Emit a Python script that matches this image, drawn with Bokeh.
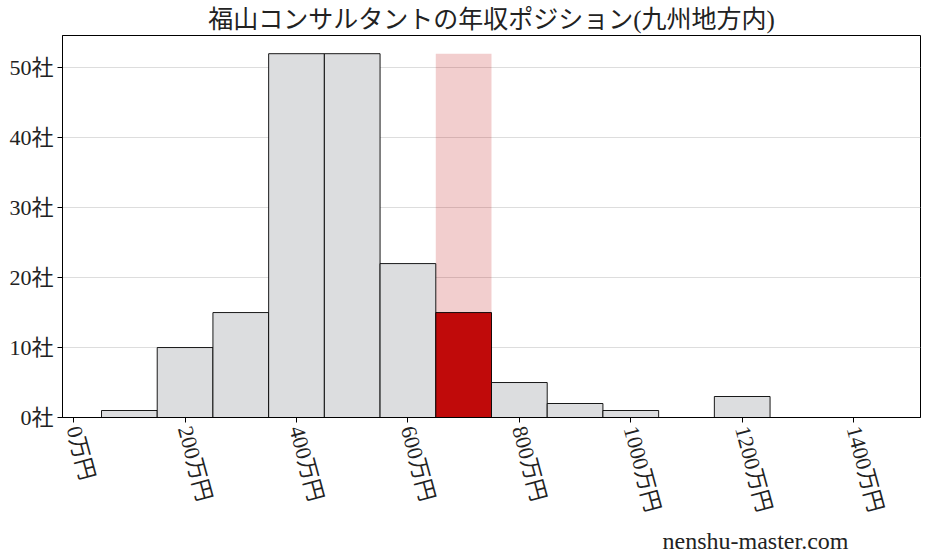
import math
from bokeh.plotting import figure
from bokeh.models import FixedTicker, Range1d, Title, ColumnDataSource
from bokeh.embed import file_html
from bokeh.resources import INLINE

# ---- data ----
bin_centers = [100, 200, 300, 400, 500, 600, 700, 800, 900, 1000, 1100, 1200, 1300, 1400]
counts = [1, 10, 15, 52, 52, 22, 15, 5, 2, 1, 0, 3, 0, 0]
bin_width = 100
highlight_center = 700
highlight_band_top = 52
x_ticks = [0, 200, 400, 600, 800, 1000, 1200, 1400]
x_tick_labels = [f"{t}万円" for t in x_ticks]
y_ticks = [0, 10, 20, 30, 40, 50]
y_tick_labels = [f"{t}社" for t in y_ticks]
title_text = "福山コンサルタントの年収ポジション(九州地方内)"
watermark = "nenshu-master.com"

GRAY = "#dcdddf"
RED = "#c00a0a"
FONT = "'Liberation Serif', 'Noto Sans CJK JP'"

colors = [RED if c == highlight_center else GRAY for c in bin_centers]
src = ColumnDataSource(dict(x=bin_centers, top=counts, color=colors))

x_lo = min(bin_centers) - bin_width / 2
x_hi = max(bin_centers) + bin_width / 2
pad = (x_hi - x_lo) * 0.05
y_hi = max(counts) * 1.05

p = figure(frame_width=858, frame_height=382, output_backend="svg", toolbar_location=None,
           x_range=Range1d(x_lo - pad, x_hi + pad), y_range=Range1d(0, y_hi),
           min_border_left=62, min_border_right=1, min_border_top=27, min_border_bottom=0)

p.title.text = title_text
p.title.align = "center"
p.title.text_font = FONT
p.title.text_font_size = "25px"
p.title.text_font_style = "normal"
p.title.text_color = "#222222"
p.title.standoff = 6

p.add_layout(Title(text=watermark, align="right", offset=72, text_font=FONT,
                   text_font_size="24px", text_font_style="normal",
                   text_color="#222222"), "below")

# highlight band
p.vbar(x=[highlight_center], top=[highlight_band_top], width=bin_width,
       fill_color=RED, fill_alpha=0.2, line_color=None)
# bars
p.vbar(x="x", top="top", width=bin_width, source=src, fill_color="color",
       line_color="black", line_width=0.9)

p.xgrid.visible = False
p.ygrid.grid_line_color = "#dddddd"
p.ygrid.ticker = FixedTicker(ticks=y_ticks)

p.outline_line_color = "black"
p.outline_line_width = 1

for ax in (p.xaxis[0], p.yaxis[0]):
    ax.axis_line_color = "black"
    ax.major_tick_line_color = "black"
    ax.major_tick_out = 5
    ax.major_tick_in = 0
    ax.minor_tick_line_color = None
    ax.major_label_text_font = FONT
    ax.major_label_text_font_size = "22px"
    ax.major_label_text_color = "#222222"
    ax.major_label_standoff = 4

p.xaxis[0].ticker = FixedTicker(ticks=x_ticks)
p.xaxis[0].major_label_overrides = {t: l for t, l in zip(x_ticks, x_tick_labels)}
p.xaxis[0].major_label_orientation = -math.radians(75)
p.yaxis[0].ticker = FixedTicker(ticks=y_ticks)
p.yaxis[0].major_label_overrides = {t: l for t, l in zip(y_ticks, y_tick_labels)}

open("out.html", "w").write(file_html(p, INLINE))
